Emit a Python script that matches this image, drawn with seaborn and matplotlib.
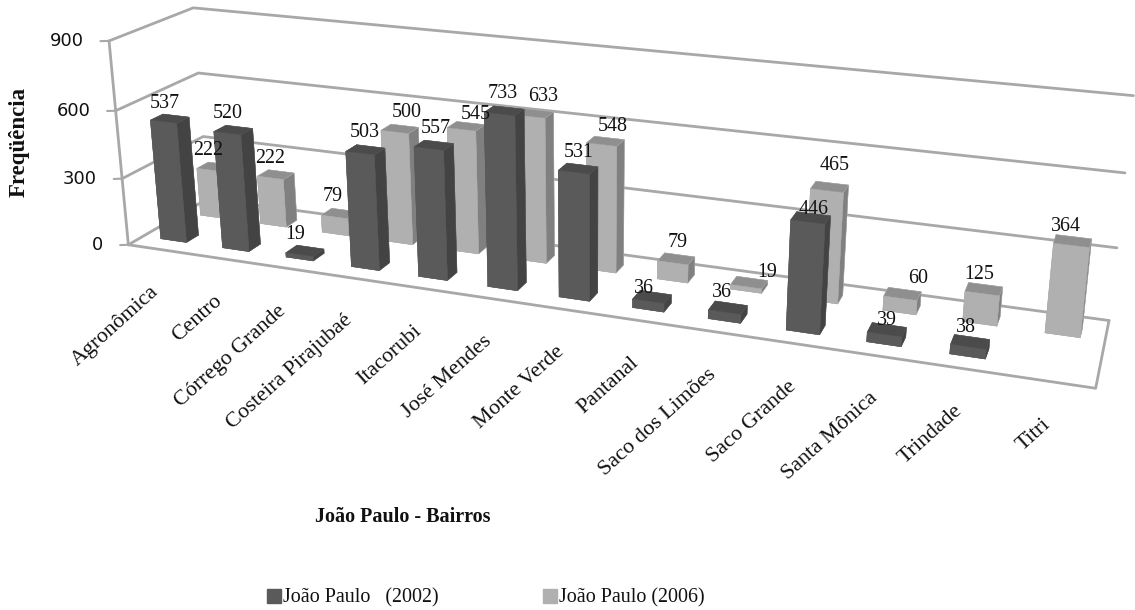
import numpy as np
import seaborn as sns
import matplotlib
matplotlib.use('Agg')
import matplotlib.pyplot as plt
from matplotlib.patches import Patch
from mpl_toolkits.mplot3d import proj3d

bairros = ['Agronômica', 'Centro', 'Córrego Grande', 'Costeira Pirajubaé', 'Itacorubi', 'José Mendes',
           'Monte Verde', 'Pantanal', 'Saco dos Limões', 'Saco Grande', 'Santa Mônica', 'Trindade', 'Titri']
ano_2002 = [537, 520, 19, 503, 557, 733, 531, 36, 36, 446, 39, 38, None]
ano_2006 = [222, 222, 79, 500, 545, 633, 548, 79, 19, 465, 60, 125, 364]
z_ticks = [0, 300, 600, 900]

# small pixel nudges of the value labels, the original places them by hand
ajuste_2002 = [(-5, 6), (-6, 7), (-10, 7), (-1, 8), (2, 7), (-1, 8), (1, 7), (-8, -1), (-6, 6), (3, -1), (0, 0), (-4, 5), (0, 0)]
ajuste_2006 = [(-7, 7), (-6, 7), (-7, 7), (7, 7), (10, 2), (9, 7), (7, 5), (1, 7), (18, 1), (5, 12), (16, 6), (-5, 5), (-7, 5)]

sns.set_theme(style='white')
plt.rcParams['font.family'] = ['Liberation Serif', 'DejaVu Serif']
plt.rcParams['text.color'] = '#111111'

W, H = 1135, 610
fig = plt.figure(figsize=(W / 100, H / 100), dpi=100)

# camera values fitted against the box corners of the original chart
S, cx, cy = 1013.0, 578.39, 189.66
ax = fig.add_axes([(cx - S / 2) / W, 1 - (cy + S / 2) / H, S / W, S / H], projection='3d', computed_zorder=False)
ax.set_xlim(0, 13)
ax.set_ylim(0, 2)
ax.set_zlim(0, 900)
ax.set_axis_off()
ax.view_init(18.99, -69.82, -0.034)
ax.set_proj_type('persp', focal_length=0.3101)
ax.set_box_aspect((1, 0.1563, 0.2246))
M = ax.get_proj()


def rotulo(x, y, z, texto, dx=0, dy=0, **kw):
    # text at a 3D point, moved by some pixels
    u, v, _ = proj3d.proj_transform(x, y, z, M)
    ax.annotate(texto, xy=(u, v), xycoords='data', xytext=(dx, dy), textcoords='offset pixels',
                annotation_clip=False, color='#111111', zorder=60, **kw)


cinza_linha = '#a8a8a8'
for z in z_ticks:
    ax.plot([0, 0, 13], [0, 2, 2], [z, z, z], color=cinza_linha, lw=2, zorder=1)
    ax.plot([0, -0.1], [0, -0.05], [z, z], color=cinza_linha, lw=1.5, zorder=1)
    rotulo(0, 0, z, str(z), dx=-25, ha='right', va='center', fontsize=13, family='DejaVu Sans')
ax.plot([0, 0], [0, 0], [0, 900], color=cinza_linha, lw=2, zorder=1)
ax.plot([0, 13, 13], [0, 0, 2], [0, 0, 0], color=cinza_linha, lw=2, zorder=1)

# bottom, top, front, back, left, right
cores_2002 = ['#3f3f3f', '#4b4b4b', '#5a5a5a', '#3f3f3f', '#3f3f3f', '#434343']
cores_2006 = ['#808080', '#8f8f8f', '#b0b0b0', '#808080', '#808080', '#808080']
larg, prof = 0.42, 0.3
ordem = 2
for y0, serie, cores, ajuste in [(1.5, ano_2006, cores_2006, ajuste_2006), (0.5, ano_2002, cores_2002, ajuste_2002)]:
    for i, v in enumerate(serie):
        if v is None:
            continue
        ax.bar3d(i + 0.5 - larg / 2, y0 - prof / 2, 0, larg, prof, v, color=cores, shade=False, lw=0.3,
                 edgecolor=cores[2], zorder=ordem)
        ordem += 1
        rotulo(i + 0.5, y0, v, str(v), dx=ajuste[i][0], dy=ajuste[i][1], ha='center', va='bottom', fontsize=14.4)

for i, nome in enumerate(bairros):
    rotulo(i + 0.5, 0, 0, nome, dx=-9, dy=-33, ha='right', va='top', rotation=42, rotation_mode='anchor', fontsize=15.8)

for artista in ax.get_children():
    artista.set_clip_on(False)

fig.text(19 / W, 1 - 142 / H, 'Freqüência', rotation=90, ha='center', va='center', fontsize=16.5, fontweight='bold')
fig.text(403 / W, 1 - 517 / H, 'João Paulo - Bairros', ha='center', va='center', fontsize=14.5, fontweight='bold')
fig.legend(handles=[Patch(color='#5a5a5a', label='João Paulo   (2002)'), Patch(color='#b0b0b0', label='João Paulo (2006)')],
           ncol=2, loc='center', bbox_to_anchor=(486 / W, 1 - 598 / H), frameon=False, fontsize=14.4,
           handlelength=0.7, handleheight=0.7, handletextpad=0.1, columnspacing=5.2)
fig.savefig('out.png', dpi=100)
